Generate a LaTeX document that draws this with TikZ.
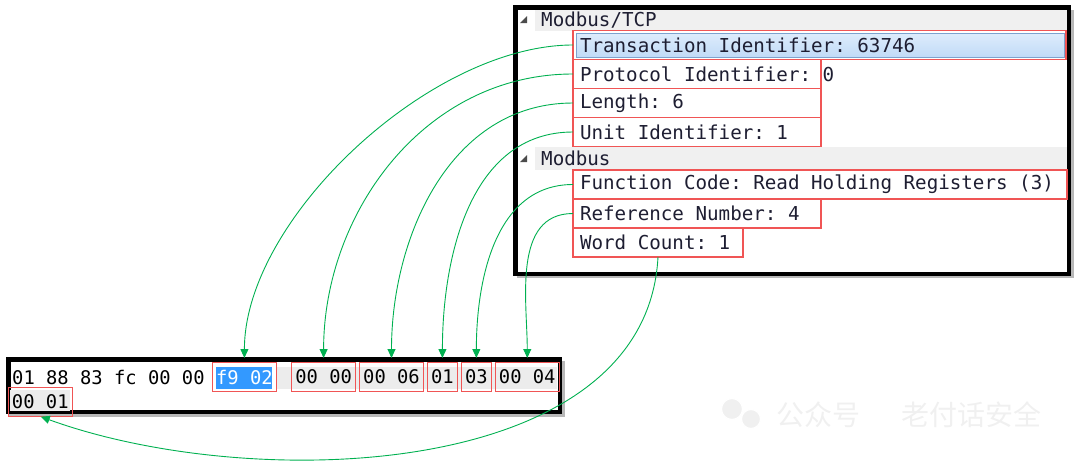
\documentclass[tikz,border=0pt]{standalone}
\usepackage{fontspec}
\setmonofont{DejaVu Sans Mono}
\newfontfamily\cjk{Noto Sans CJK SC}
\usetikzlibrary{positioning}
\usetikzlibrary{arrows.meta}
\usetikzlibrary{backgrounds}

\definecolor{boxred}{RGB}{240,85,85}
\definecolor{linkgreen}{RGB}{0,176,80}
\definecolor{selblue}{RGB}{51,153,255}
\definecolor{rowtop}{RGB}{222,236,252}
\definecolor{rowbot}{RGB}{193,219,247}
\definecolor{rowedge}{RGB}{125,162,206}
\definecolor{hdrgrey}{RGB}{240,240,240}
\definecolor{hexgrey}{RGB}{236,236,236}
\definecolor{treeink}{RGB}{30,30,50}

\begin{document}
\begin{tikzpicture}[x=1pt,y=1pt,>={Triangle[length=9pt,width=8pt]},
		mono/.style={font=\ttfamily\fontsize{19.2}{22}\selectfont},
		field/.style={mono,draw=boxred,line width=1.1pt,text=treeink,inner xsep=7pt,inner ysep=0pt,
			outer sep=0pt,minimum height=29pt,
			execute at begin node={\hbox to #1\bgroup},execute at end node={\hss\egroup}},
		hdr/.style={mono,text=treeink,inner sep=0pt,anchor=west},
		hexpre/.style={font=\ttfamily\fontsize{18.8}{22}\selectfont,inner sep=0pt,anchor=west},
		hexbyte/.style={font=\ttfamily\fontsize{18.8}{22}\selectfont,draw=boxred,line width=1.1pt,
			inner xsep=3.5pt,inner ysep=0pt,outer sep=0pt,minimum height=29pt},
		link/.style={linkgreen,line width=0.9pt,->,shorten >=4.5pt},
		panel/.style={fill=white,draw=black,line width=4.5pt},
		shade/.style={fill=black!28},
		twisty/.style={fill=black!70},
		wm/.style={text=black!6,font=\cjk\fontsize{28}{30}\selectfont}]
		\useasboundingbox (0,0) rectangle (1080,-461);
		
		% packet details
		\node[hdr]                    (tcp)   at (541,-20)  {Modbus/TCP};
		\node[field=479pt,anchor=west] (trans) at (573,-45)  {Transaction Identifier: 63746};
		\node[field=234pt]  (proto) [below=0pt of trans.south west,anchor=north west] {Protocol Identifier: 0};
		\node[field=234pt]  (len)   [below=0pt of proto.south west,anchor=north west] {Length: 6};
		\node[field=234pt]  (unit)  [below=0pt of len.south west,anchor=north west]   {Unit Identifier: 1};
		\node[hdr]                    (mbus)  at (541,-158) {Modbus};
		\node[field=480pt,anchor=west] (func) at (573,-184.5) {Function Code: Read Holding Registers (3)};
		\node[field=234pt]  (ref)   [below=0pt of func.south west,anchor=north west]  {Reference Number: 4};
		\node[field=156pt]  (wc)    [below=0pt of ref.south west,anchor=north west]   {Word Count: 1};
		
		\fill[twisty] (520,-23) -- (527,-23) -- (527,-16) -- cycle;
		\fill[twisty] (520,-162) -- (527,-162) -- (527,-155) -- cycle;
		
		% hex bytes
		\node[hexpre]             (pre)  at (12,-377) {01 88 83 fc 00 00};
		\node[hexbyte,text=white] (tid)  [right=7.8pt of pre]  {f9 02};
		\node[hexbyte]            (pid)  [right=15.6pt of tid] {00 00};
		\node[hexbyte]            (lenb) [right=4.3pt of pid]  {00 06};
		\node[hexbyte]            (uid)  [right=4.3pt of lenb] {01};
		\node[hexbyte]            (fc)   [right=4.3pt of uid]  {03};
		\node[hexbyte]            (refb) [right=4.3pt of fc]   {00 04};
		\node[hexbyte,anchor=west] (cnt) at (8.5,-402)        {00 01};
		
		\begin{scope}[on background layer]
			\fill[shade] (517,-10) rectangle (1073.5,-278);
			\filldraw[panel] (515.25,-7.25) rectangle (1068.75,-273.75);
			\fill[shade] (9,-361) rectangle (564.5,-416.5);
			\filldraw[panel] (8.25,-359.25) rectangle (559.75,-411.75);
			\fill[hdrgrey] (535,-9.5) rectangle (1066.5,-30.5);
			\fill[hdrgrey] (535,-146.5) rectangle (1066.5,-170);
			\shadedraw[top color=rowtop,bottom color=rowbot,draw=rowedge]
				([shift={(3pt,-2.5pt)}]trans.north west) rectangle ([shift={(-2pt,2.5pt)}]trans.south east);
			\fill[hexgrey] ([yshift=-4pt]tid.north east) rectangle ([shift={(-2pt,3pt)}]refb.south east);
			\fill[hexgrey] ([shift={(1.5pt,-2.5pt)}]cnt.north west) rectangle ([shift={(-2pt,5.5pt)}]cnt.south east);
			\fill[selblue] ([shift={(3pt,-4pt)}]tid.north west) rectangle ([shift={(-4pt,3pt)}]tid.south east);
		\end{scope}
		
		% field -> bytes
		\path[link]
		(trans.west) edge[out=180,in=90,looseness=0.8] (tid.north)
		(proto.west) edge[out=180,in=90] (pid.north)
		(len.west)   edge[out=180,in=90] (lenb.north)
		(unit.west)  edge[out=180,in=90] (uid.north)
		(func.west)  edge[out=180,in=90] (fc.north)
		(ref.west)   edge[out=180,in=90] (refb.north)
		(wc.south)   edge[out=-93,in=-20,looseness=0.9,shorten >=0.5pt] (cnt.south);
		
		% watermark
		\filldraw[fill=black!6,draw=white,line width=1.2pt] (732,-409) circle[radius=10.5pt];
		\filldraw[fill=black!6,draw=white,line width=1.2pt] (751,-419) circle[radius=9.5pt];
		\node[wm] (wmA) at (818,-415) {公众号};
		\node[wm] (wmB) at (971,-415) {老付话安全};
\end{tikzpicture}
\end{document}
